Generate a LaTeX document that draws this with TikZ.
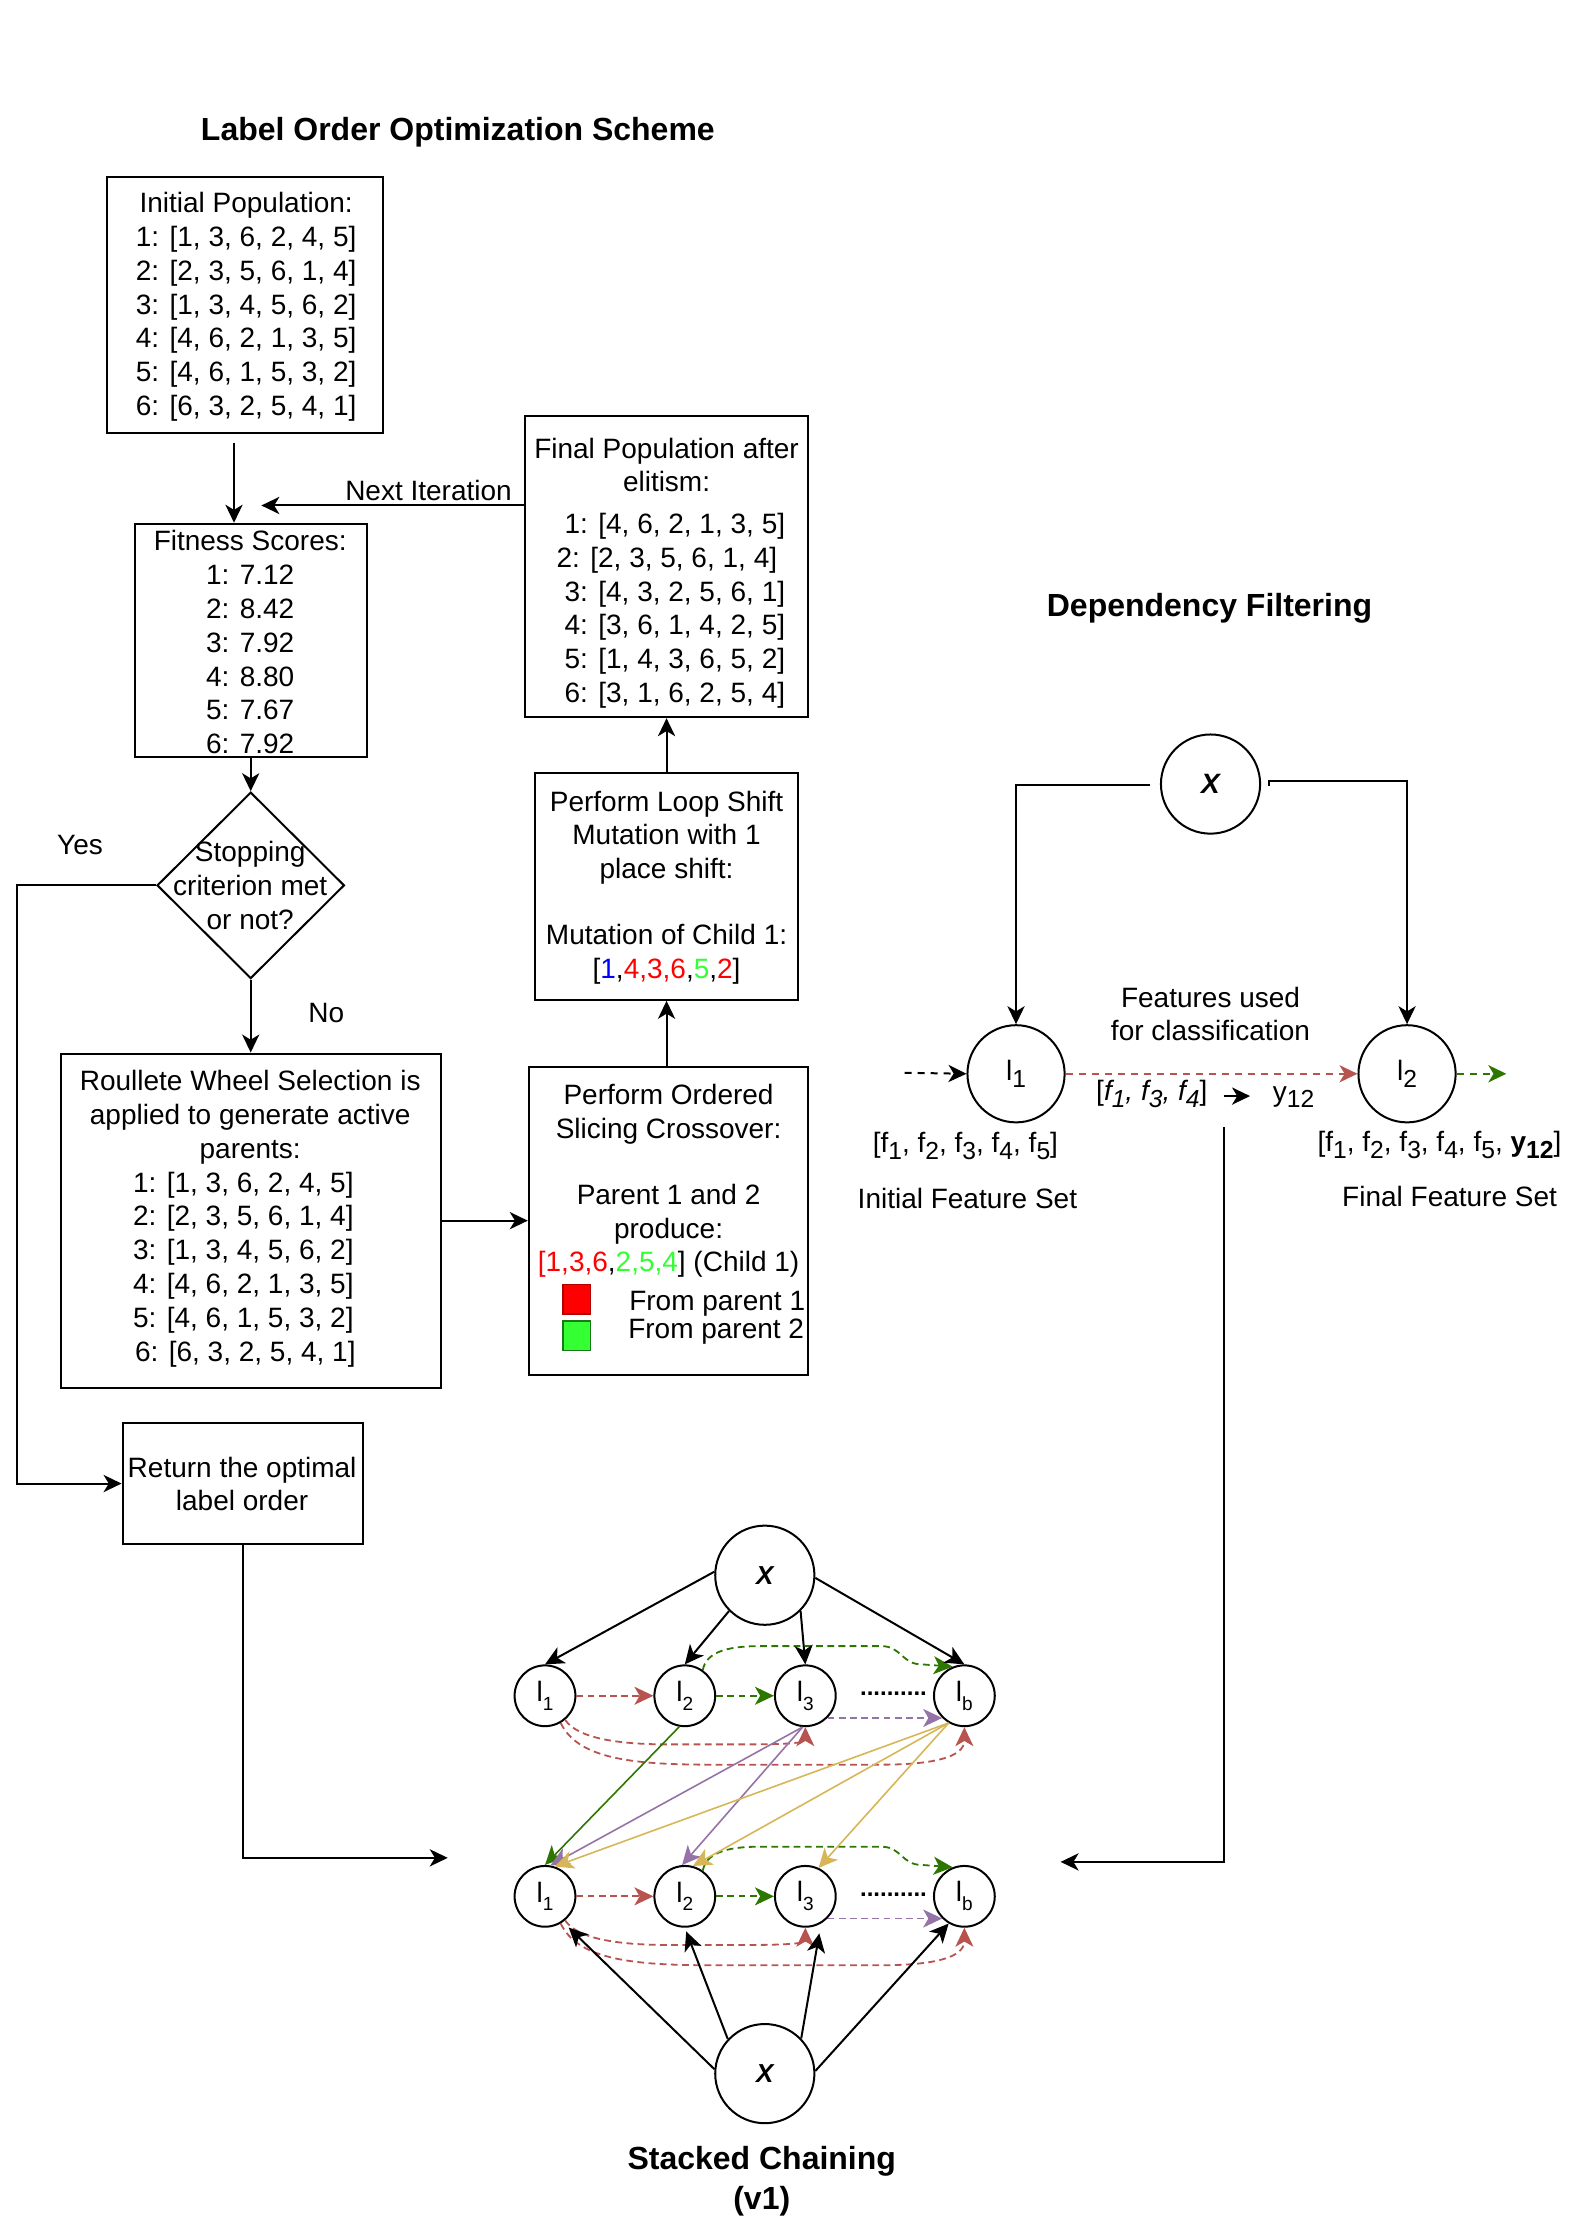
\documentclass[tikz,border=0pt]{standalone}
\usepackage{fontspec}
\setmainfont{Liberation Sans}
\usepackage{graphicx}
\usetikzlibrary{arrows.meta,shapes.geometric,fit}
\definecolor{cred}{HTML}{B85450}
\definecolor{cgreen}{HTML}{2D7600}
\definecolor{cpurple}{HTML}{9673A6}
\definecolor{cyellow}{HTML}{D6B656}
\definecolor{tred}{HTML}{FF0000}
\definecolor{tgreen}{HTML}{33FF33}
\definecolor{tblue}{HTML}{0000FF}
\definecolor{sqred}{HTML}{B20000}
\definecolor{sqgreen}{HTML}{1A7A1A}
\newcommand\sbx[1]{\raisebox{-0.45ex}{\scalebox{0.88}{#1}}}
\newcommand\lsub[1]{l\raisebox{-0.5ex}{\scalebox{0.88}{#1}}}
\newcommand\ssub[1]{l\raisebox{-0.6ex}{\scalebox{0.68}{#1}}}
\begin{document}
\begin{tikzpicture}[x=0.5066pt,y=-0.5066pt,
  every node/.style={font=\fontsize{14}{16.9}\selectfont},
  bx/.style={draw, line width=1pt, inner sep=0pt},
  txt/.style={align=center, inner sep=0pt},
  ttl/.style={align=center, inner sep=0pt, font=\bfseries\fontsize{16}{19.8}\selectfont},
  arr/.style={line width=1pt, -{Stealth[length=9pt,width=8.6pt,inset=2.6pt]}},
  darr/.style={line width=1pt, dash pattern=on 3.5pt off 3pt, -{Stealth[length=9pt,width=8.6pt,inset=2.6pt]}},
  cnode/.style={draw, circle, line width=1pt, inner sep=0pt},
  sarr/.style={line width=1pt, -{Stealth[length=9.5pt,width=9pt,inset=2.6pt]}},
  sline/.style={line width=0.8pt, -{Stealth[length=9.5pt,width=9pt,inset=2.6pt]}},
  sd/.style={line width=0.9pt, dash pattern=on 3.4pt off 2.2pt, -{Stealth[length=9.5pt,width=9pt,inset=2.6pt]}},
  sfont/.style={font=\fontsize{14}{16}\selectfont}
]
\useasboundingbox (0,0) rectangle (1568.6,2193.5);

% ---------------- Label order optimization ----------------
\node[ttl] (title1) at (452,131) {Label Order Optimization Scheme};

\node[bx, fit={(106,175) (378,427)}] (init) {};
\node[txt] (tinit) at (243,303) {Initial Population:\\1: [1, 3, 6, 2, 4, 5]\\2: [2, 3, 5, 6, 1, 4]\\3: [1, 3, 4, 5, 6, 2]\\4: [4, 6, 2, 1, 3, 5]\\5: [4, 6, 1, 5, 3, 2]\\6: [6, 3, 2, 5, 4, 1]};

\node[bx, fit={(133,517) (362,747)}] (fitn) {};
\node[txt] (tfit) at (247,634) {Fitness Scores:\\1: 7.12\\2: 8.42\\3: 7.92\\4: 8.80\\5: 7.67\\6: 7.92};

\node[bx, fit={(518,411) (798,708)}] (fin) {};
\node[txt] (tfin1) at (658,459) {Final Population after\\elitism:};
\node[txt, align=left, anchor=west] (tfin2) at (557,603) {1: [4, 6, 2, 1, 3, 5]\\\hspace*{-4pt}2: [2, 3, 5, 6, 1, 4]\\3: [4, 3, 2, 5, 6, 1]\\4: [3, 6, 1, 4, 2, 5]\\5: [1, 4, 3, 6, 5, 2]\\6: [3, 1, 6, 2, 5, 4]};

\node[draw, diamond, aspect=1, line width=1pt, inner sep=0pt, minimum width=93.7pt, minimum height=93.2pt] (dia) at (247.5,874) {};
\node[txt] (tdia) at (247,874) {Stopping\\criterion met\\or not?};

\node[txt] (yes) at (79,834) {Yes};
\node[txt] (no) at (322,1000) {No};
\node[txt] (nextit) at (423,484) {Next Iteration};

\node[bx, fit={(60,1040) (435,1370)}] (rw) {};
\node[txt] (trw1) at (247,1103) {Roullete Wheel Selection is\\applied to generate active\\parents:};
\node[txt, align=left, anchor=west] (trw2) at (131,1253) {1: [1, 3, 6, 2, 4, 5]\\2: [2, 3, 5, 6, 1, 4]\\3: [1, 3, 4, 5, 6, 2]\\4: [4, 6, 2, 1, 3, 5]\\5: [4, 6, 1, 5, 3, 2]\\\hspace*{1pt}6: [6, 3, 2, 5, 4, 1]};

\node[bx, fit={(522,1053) (798,1357)}] (ord) {};
\node[txt] (tord) at (660,1166) {Perform Ordered\\Slicing Crossover:\\[16pt]Parent 1 and 2\\produce:\\\textcolor{tred}{[1,3,6},\textcolor{tgreen}{2,5,4}] (Child 1)};
\node[draw=sqred, fill=tred, line width=0.8pt, inner sep=0pt, minimum width=13.7pt, minimum height=14.7pt] (sqr) at (569.5,1282.5) {};
\node[draw=sqgreen, fill=tgreen, line width=0.8pt, inner sep=0pt, minimum width=13.7pt, minimum height=14.7pt] (sqg) at (569.5,1318.5) {};
\node[txt] (fp1) at (708,1287) {From parent 1};
\node[txt] (fp2) at (707,1315) {From parent 2};

\node[bx, fit={(528,763) (788,987)}] (loop) {};
\node[txt] (tloop) at (658,876) {Perform Loop Shift\\Mutation with 1\\place shift:\\[16pt]Mutation of Child 1:\\{}[\textcolor{tblue}{1},\textcolor{tred}{4,3,6},\textcolor{tgreen}{5},\textcolor{tred}{2}]};

\node[bx, fit={(121,1405) (358,1524)}] (ret) {};
\node[txt] (tret) at (239,1465) {Return the optimal\\label order};

% flow connectors
\coordinate (c1) at (231,437);
\draw[arr] (c1) -- (c1 |- fitn.north);
\coordinate (c2) at (258,499);
\draw[arr] (fin.west |- c2) -- (c2);
\draw[arr] (fitn.south -| dia.north) -- (dia.north);
\draw[arr] (dia.south) -- (rw.north);
\coordinate (ybend) at (17,874);
\draw[arr] (dia.west) -- (ybend) |- (ret.west);
\draw[arr] (rw.east) -- (ord.west);
\draw[arr] (loop.south |- ord.north) -- (loop.south);
\draw[arr] (loop.north) -- (fin.south);
\coordinate (retend) at (442,1834);
\draw[arr] (ret.south) |- (retend);

% ---------------- Dependency filtering ----------------
\node[ttl] (title2) at (1194,600) {Dependency Filtering};
\node[cnode, minimum size=49.6pt] (dx) at (1195,774) {\bfseries\itshape X};
\node[cnode, minimum size=48.6pt] (dl1) at (1003,1060) {\lsub{1}};
\node[cnode, minimum size=48.6pt] (dl2) at (1389,1060) {\lsub{2}};

\coordinate (dxl) at (1135,775);
\coordinate (dxr) at (1253,776);
\draw[arr] (dxl) -| (dl1.north);
\draw[arr] (dxr) -- ++(0,-5) -| (dl2.north);

\coordinate (din) at (893,1059);
\draw[darr] (din) -- (dl1.west);
\draw[darr, cred] (dl1.east) -- (dl2.west);
\coordinate (dout) at (1487,1060);
\draw[darr, cgreen] (dl2.east) -- (dout);

\node[txt] (fused) at (1195,1001) {Features used\\for classification};
\node[txt] (fsel) at (1137,1080) {[\textit{f\sbx{1}, f\sbx{3}, f\sbx{4}}]};
\coordinate (sa1) at (1208,1082);
\coordinate (sa2) at (1234,1082);
\draw[arr] (sa1) -- (sa2);
\node[txt] (y12) at (1277,1083) {y\sbx{12}};
\node[txt] (fset1) at (953,1131) {[f\sbx{1}, f\sbx{2}, f\sbx{3}, f\sbx{4}, f\sbx{5}]};
\node[txt] (lab1) at (955,1183) {Initial Feature Set};
\node[txt] (fset2) at (1421,1130) {[f\sbx{1}, f\sbx{2}, f\sbx{3}, f\sbx{4}, f\sbx{5}, \textbf{y\sbx{12}}]};
\node[txt] (lab2) at (1431,1181) {Final Feature Set};

\coordinate (vtop) at (1208,1113);
\coordinate (vend) at (1047,1838);
\draw[arr] (vtop) |- (vend);

% ---------------- Stacked chaining ----------------
\node[cnode, minimum size=49.6pt, font=\bfseries\itshape\fontsize{13}{15}\selectfont] (tX) at (755,1555) {X};
\node[cnode, minimum size=49.6pt, font=\bfseries\itshape\fontsize{13}{15}\selectfont] (bX) at (755,2047) {X};
\foreach \r/\yy in {t/1674,b/1872}{
  \node[cnode, minimum size=30.4pt, sfont] (\r1) at (538,\yy) {\ssub{1}};
  \node[cnode, minimum size=30.4pt, sfont] (\r2) at (676,\yy) {\ssub{2}};
  \node[cnode, minimum size=30.4pt, sfont] (\r3) at (795,\yy) {\ssub{3}};
  \node[cnode, minimum size=30.4pt, sfont] (\r b) at (952,\yy) {\ssub{b}};
  \node[txt, font=\bfseries\fontsize{12}{14}\selectfont] (\r dots) at (882,\yy-2) {..........};
  \draw[sd, cred] (\r1.east) -- (\r2.west);
  \draw[sd, cgreen] (\r2.east) -- (\r3.west);
  \draw[sd, cpurple] (\r3.-45) -- (\r b.-135);
  \draw[sd, cgreen] (\r2.55) .. controls (697,\yy-42) and (715,\yy-49) .. (750,\yy-49) -- (870,\yy-49) .. controls (890,\yy-49) and (890,\yy-31) .. (910,\yy-31) -- (\r b.112);
  \draw[sd, cred] (\r1.-50) .. controls (570,\yy+42) and (610,\yy+48) .. (660,\yy+48) -- (740,\yy+48) .. controls (780,\yy+48) and (795,\yy+46) .. (\r3.south);
  \draw[sd, cred] (\r1.-60) .. controls (570,\yy+61) and (620,\yy+68) .. (700,\yy+68) -- (870,\yy+68) .. controls (920,\yy+68) and (952,\yy+61) .. (\r b.south);
}
\node[ttl] (title3) at (752,2153) {Stacked Chaining\\(v1)};

% X to top row
\draw[sarr] (tX.176) -- (t1.north);
\draw[sarr] (tX.225) -- (t2.north);
\draw[sarr] (tX.-45) -- (t3.north);
\draw[sarr] (tX.-3) -- (tb.north);
% X to bottom row
\draw[sarr, shorten >=4pt] (bX.175) -- (b1.-55);
\draw[sarr, shorten >=2pt] (bX.137) -- (b2.south);
\draw[sarr, shorten >=5pt] (bX.44) -- (b3.-60);
\draw[sarr] (bX.3) -- (bb.-120);
% cross-layer
\draw[sline, cgreen] (t2.-100) -- (b1.north);
\draw[sline, cpurple] (t3.-95) -- (b1.80);
\draw[sline, cpurple] (t3.-95) -- (b2.95);
\draw[sline, cyellow] (tb.-120) -- (b1.72);
\draw[sline, cyellow] (tb.-120) -- (b2.75);
\draw[sline, cyellow] (tb.-120) -- (b3.65);
\end{tikzpicture}
\end{document}
